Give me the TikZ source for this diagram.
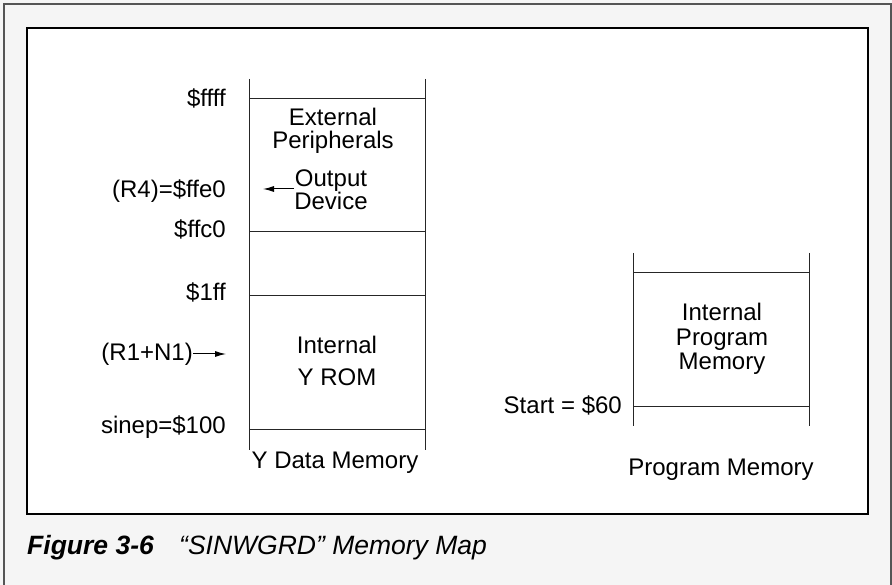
\documentclass[tikz,border=0pt]{standalone}
\usepackage{fontspec}
\setmainfont{Liberation Sans}
\usetikzlibrary{arrows.meta}
\definecolor{pagegray}{HTML}{F5F5F5}
\definecolor{framegray}{HTML}{555555}
\tikzset{
	lbl/.style={anchor=east,inner sep=0pt,font=\fontsize{24}{24}\selectfont},
	txt/.style={align=center,inner sep=0pt,font=\fontsize{24}{24}\selectfont},
	mem/.style={draw=black!85,line width=1pt},
	ptr/.style={-{Latex[length=11pt,width=6pt]},line width=1pt},
	figcap/.style={anchor=base west,inner sep=0pt,font=\fontsize{26.5}{26}\selectfont}
}

\begin{document}
\begin{tikzpicture}[x=1pt,y=-1pt]
\useasboundingbox (0,0) rectangle (892,585);
%Rahmen
\fill[pagegray] (0,0) rectangle (892,585);
\draw[framegray,line width=1.5pt] (4,590)--(4,4)--(891,4)--(891,590);
\draw[black,line width=1.3pt,fill=white] (27,28) rectangle (868,514);

%Y Data Memory
\draw[mem] (249,79)--(249,450);
\draw[mem] (425,79)--(425,450);
\foreach \y in {99,232,296,429} \draw[mem] (249,\y)--(425,\y);

\node[lbl] (ffff) at (226,98) {\$ffff};
\node[lbl] (ffeo) at (226,191) {(R4)=\$ffe0};
\node[lbl] (ffco) at (226,229) {\$ffc0};
\node[lbl] (oneff) at (226,292) {\$1ff};
\node[lbl] (rn) at (193,354) {(R1+N1)};
\node[lbl] (sinep) at (226,427) {sinep=\$100};

\node[txt,font=\fontsize{24}{23}\selectfont] (extper) at (333,131) {External\\Peripherals};
\node[txt,font=\fontsize{24}{21}\selectfont] (outdev) at (331,190) {Output\\Device};
\node[txt,font=\fontsize{24}{32}\selectfont] (yrom) at (337,361) {Internal\\Y ROM};
\node[txt] (ydata) at (335,463) {Y Data Memory};

\coordinate (r4tip) at (263,189);
\coordinate (romptr) at (226,354);
\draw[ptr] (outdev.west |- r4tip) -- (r4tip);
\draw[ptr] (rn) -- (romptr);

%Program Memory
\draw[mem] (633,253)--(633,426);
\draw[mem] (809,253)--(809,426);
\foreach \y in {273,406} \draw[mem] (633,\y)--(809,\y);

\node[lbl] (start) at (622,405) {Start = \$60};
\node[txt,font=\fontsize{24}{24.5}\selectfont] (ipm) at (722,339) {Internal\\Program\\Memory};
\node[txt] (pmem) at (721,470) {Program Memory};

%Caption
\node[figcap] (figno) at (27,554) {\bfseries\itshape Figure 3-6};
\node[figcap] (figtitle) at (179,554) {\itshape “SINWGRD” Memory Map};
\end{tikzpicture}
\end{document}
